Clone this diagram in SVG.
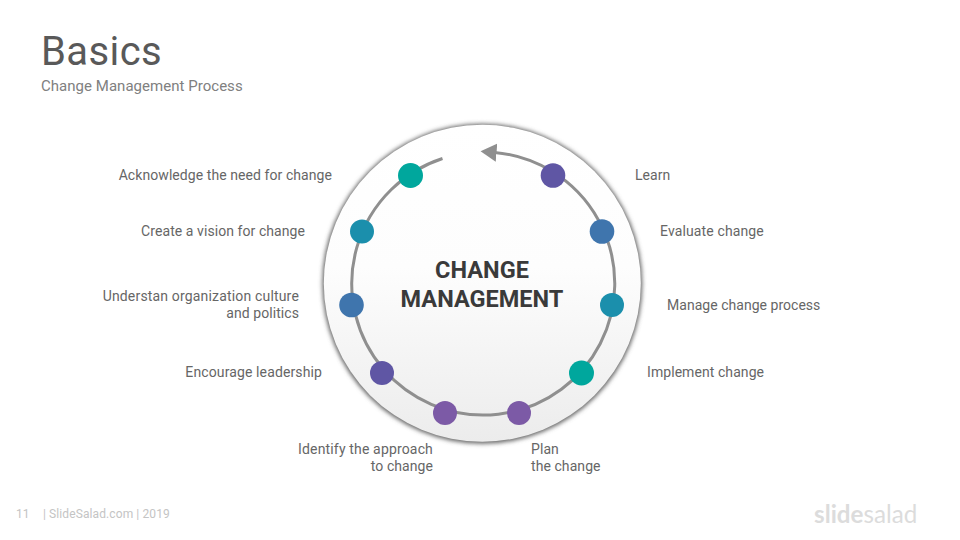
<svg xmlns="http://www.w3.org/2000/svg" width="960" height="540" viewBox="0 0 960 540">
<style>
text{font-family:Roboto,"Liberation Sans",sans-serif}
.l{font-size:14px;fill:#666;letter-spacing:.07px}
.e{text-anchor:end}
.c{font-size:23.500px;font-weight:700;fill:#3a3a3a;text-anchor:middle}
.ring{fill:none;stroke:#8f8f8f;stroke-width:3}
.f{font-size:12px;fill:#c4c4c4;letter-spacing:.1px}
</style>
<defs>
<linearGradient id="g" x1="0" y1="0" x2="0" y2="1"><stop offset="0" stop-color="#fff"/><stop offset=".45" stop-color="#fdfdfd"/><stop offset="1" stop-color="#ececec"/></linearGradient>
<filter id="s" x="-10%" y="-10%" width="120%" height="120%"><feGaussianBlur stdDeviation="2.200"/></filter>
<marker id="a" markerUnits="userSpaceOnUse" markerWidth="18" markerHeight="20" refX="2" refY="10" orient="auto"><path d="M0 1L16 10L0 19Z" fill="#8f8f8f"/></marker>
</defs>
<rect width="960" height="540" fill="#fff"/>
<text x="41" y="65" font-size="40" fill="#595959" letter-spacing=".4">Basics</text>
<text x="41" y="91" font-size="15" fill="#808080" letter-spacing=".03">Change Management Process</text>
<g id="hub">
<circle cx="482.300" cy="283.800" r="160" fill="#666" filter="url(#s)"/>
<circle cx="482.300" cy="283.300" r="158.500" fill="url(#g)"/>
<text class="c" x="482" y="278">CHANGE</text>
<text class="c" x="482" y="307">MANAGEMENT</text>
</g>
<g id="connectors">
<path class="ring" marker-end="url(#a)" d="M442.500 158.500A131.500 131.500 0 1 0 494.500 152.500"/>
</g>
<g id="n1"><circle cx="410.500" cy="175.500" r="12.500" fill="#00a79d"/><text class="l e" x="332" y="180">Acknowledge the need for change</text></g>
<g id="n2"><circle cx="362" cy="231.500" r="12" fill="#1b8fac"/><text class="l e" x="305" y="236">Create a vision for change</text></g>
<g id="n3"><circle cx="351.500" cy="305" r="12.300" fill="#3f75ad"/><text class="l e" x="299" y="301" style="letter-spacing:.17px">Understan organization culture</text><text class="l e" x="299" y="318">and politics</text></g>
<g id="n4"><circle cx="382" cy="373" r="12" fill="#5f56a4"/><text class="l e" x="322" y="377" style="letter-spacing:.12px">Encourage leadership</text></g>
<g id="n5"><circle cx="445" cy="413" r="12" fill="#7c5aa6"/><text class="l e" x="433" y="454" style="letter-spacing:.16px">Identify the approach</text><text class="l e" x="433" y="471">to change</text></g>
<g id="n6"><circle cx="519" cy="413" r="12" fill="#7c5aa6"/><text class="l" x="531" y="454">Plan</text><text class="l" x="531" y="471">the change</text></g>
<g id="n7"><circle cx="581.500" cy="373" r="12.500" fill="#00a79d"/><text class="l" x="647" y="377">Implement change</text></g>
<g id="n8"><circle cx="612" cy="305" r="12" fill="#1b8fac"/><text class="l" x="667" y="310" style="letter-spacing:.03px">Manage change process</text></g>
<g id="n9"><circle cx="602" cy="231.500" r="12.300" fill="#3f75ad"/><text class="l" x="660" y="236" style="letter-spacing:.13px">Evaluate change</text></g>
<g id="n10"><circle cx="553" cy="175.500" r="12.300" fill="#5f56a4"/><text class="l" x="635" y="180">Learn</text></g>
<text class="f" x="16" y="518">11</text>
<text class="f" x="43" y="518">| SlideSalad.com | 2019</text>
<text x="814" y="523" font-size="24.200" font-weight="700" fill="#dcdcdc" style="font-family:Lato,sans-serif">slide<tspan font-weight="400">salad</tspan></text>
</svg>
